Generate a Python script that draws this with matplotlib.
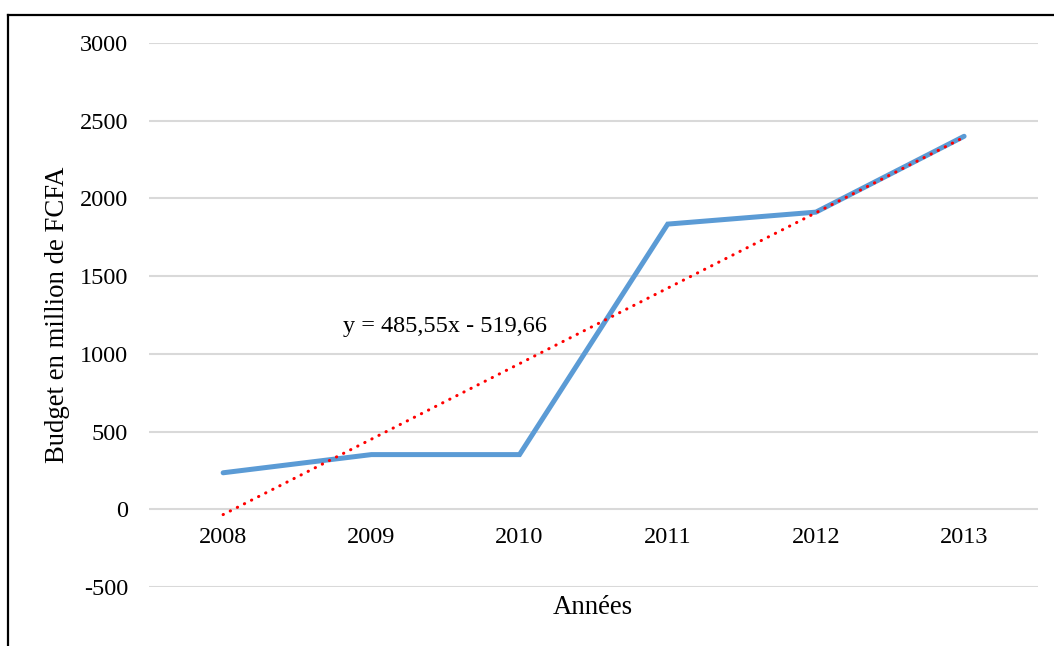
import numpy as np
import matplotlib
matplotlib.use('Agg')
import matplotlib.pyplot as plt
from matplotlib.lines import Line2D

# data
years = ['2008', '2009', '2010', '2011', '2012', '2013']
budget = [235, 352, 352, 1835, 1912, 2400]
# linear trend shown on chart: y = 485,55x - 519,66
trend = [-34, 451, 937, 1423, 1908, 2394]
trend_label = 'y = 485,55x - 519,66'
yticks = [-500, 0, 500, 1000, 1500, 2000, 2500, 3000]

plt.rcParams['font.family'] = ['Liberation Serif', 'DejaVu Serif']
fs = 17.5        # tick labels, equation
fs_title = 19.3  # axis titles

fig = plt.figure(figsize=(10.54, 6.46), dpi=100)
ax = fig.add_axes([0.1414, 0.0913, 0.8436, 0.8421])

x = np.arange(1, len(years) + 1)
ax.plot(x, budget, color='#5B9BD5', linewidth=3.6, solid_capstyle='round',
        solid_joinstyle='miter', zorder=3)
ax.plot(x, trend, color='#FF0000', linewidth=2.2, linestyle=(0, (0.1, 2.5)),
        dash_capstyle='round', zorder=4)

ax.set_xlim(0.5, 6.5)
ax.set_ylim(-500, 3000)
ax.set_yticks(yticks)
ax.set_yticklabels([str(v) for v in yticks], fontsize=fs)
ax.set_xticks([])
for xi, lab in zip(x, years):
    ax.text(xi, -180, lab, ha='center', va='center', fontsize=fs)

ax.grid(axis='y', color='#D9D9D9', linewidth=1.5)
ax.set_axisbelow(True)
for s in ax.spines.values():
    s.set_visible(False)
ax.tick_params(axis='y', length=0, pad=15)

ax.text(2.50, 1173, trend_label, ha='center', va='center', fontsize=fs)

fig.text(0.5626, 1 - 608 / 646, 'Années', ha='center', va='center',
         fontsize=fs_title)
fig.text(58 / 1054, 1 - 315 / 646, 'Budget en million de FCFA', ha='center',
         va='center', rotation=90, fontsize=fs_title)

# outer frame (top and left edges visible)
fig.add_artist(Line2D([8 / 1054, 8 / 1054], [0, 1 - 15 / 646],
                      transform=fig.transFigure, color='black', linewidth=1.6))
fig.add_artist(Line2D([8 / 1054, 1], [1 - 15 / 646, 1 - 15 / 646],
                      transform=fig.transFigure, color='black', linewidth=1.6))

fig.savefig('out.png', dpi=100)
